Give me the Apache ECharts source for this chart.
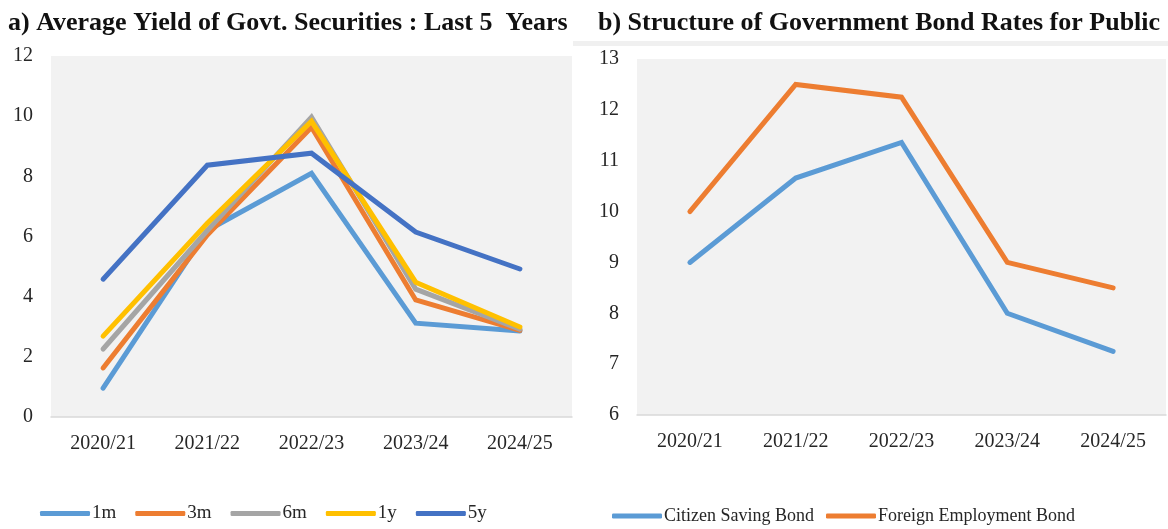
<!DOCTYPE html>
<html>
<head>
<meta charset="utf-8">
<script src="https://cdn.jsdelivr.net/npm/echarts@6/dist/echarts.min.js"></script>
<style>
  html, body { margin: 0; padding: 0; background: #fff; }
  #chart { width: 1168px; height: 529px; }
</style>
</head>
<body>
<div id="chart"></div>
<script>
// Fiscal years shared by both panels
const years = ['2020/21', '2021/22', '2022/23', '2023/24', '2024/25'];

// Panel a) average yield of government securities (%)
const yield1m = [0.96, 6.2, 8.1, 3.12, 2.86];
const yield3m = [1.63, 6.05, 9.63, 3.89, 2.88];
const yield6m = [2.26, 6.2, 9.97, 4.25, 2.92];
const yield1y = [2.69, 6.44, 9.83, 4.48, 2.99];
const yield5y = [4.58, 8.37, 8.77, 6.15, 4.92];

// Panel b) government bond rates for the public (%)
const citizenSaving = [9.0, 10.66, 11.36, 8.0, 7.25];
const foreignEmployment = [10.0, 12.5, 12.25, 9.0, 8.5];

const serif = '"Liberation Serif", "DejaVu Serif", serif';
const textColor = '#262626';

const yieldSeries = [
  { name: '1m', data: yield1m, color: '#5B9BD5' },
  { name: '3m', data: yield3m, color: '#ED7D31' },
  { name: '6m', data: yield6m, color: '#A5A5A5' },
  { name: '1y', data: yield1y, color: '#FFC000' },
  { name: '5y', data: yield5y, color: '#4472C4' }
];
const bondSeries = [
  { name: 'Citizen Saving Bond', data: citizenSaving, color: '#5B9BD5' },
  { name: 'Foreign Employment Bond', data: foreignEmployment, color: '#ED7D31' }
];

function lineSeries(s, axisIndex) {
  return {
    name: s.name,
    type: 'line',
    xAxisIndex: axisIndex,
    yAxisIndex: axisIndex,
    data: s.data,
    symbol: 'none',
    showSymbol: false,
    color: s.color,
    lineStyle: { width: 5, color: s.color, cap: 'round', join: 'miter' },
    emphasis: { disabled: true }
  };
}

function catAxis(gridIndex) {
  return {
    type: 'category',
    gridIndex: gridIndex,
    data: years,
    boundaryGap: true,
    axisLine: { show: true, lineStyle: { color: '#d9d9d9', width: 1.5 } },
    axisTick: { show: false },
    axisLabel: { fontFamily: serif, fontSize: 20, color: textColor, margin: 17 },
    splitLine: { show: false }
  };
}

function valAxis(gridIndex, min, max, interval) {
  return {
    type: 'value',
    gridIndex: gridIndex,
    min: min, max: max, interval: interval,
    axisLine: { show: false },
    axisTick: { show: false },
    splitLine: { show: false },
    axisLabel: { fontFamily: serif, fontSize: 20, color: textColor, margin: 18 }
  };
}

const chart = echarts.init(document.getElementById('chart'), null, { renderer: 'canvas' });

chart.setOption({
  animation: false,
  backgroundColor: '#ffffff',
  title: [
    {
      text: 'a) Average Yield of Govt. Securities : Last 5  Years',
      left: 3, top: 5,
      textStyle: { fontFamily: serif, fontWeight: 'bold', fontSize: 26, color: '#111' }
    },
    {
      text: 'b) Structure of Government Bond Rates for Public',
      left: 593, top: 5,
      textStyle: { fontFamily: serif, fontWeight: 'bold', fontSize: 26, color: '#111' }
    }
  ],
  graphic: [
    { type: 'rect', shape: { x: 573, y: 41, width: 595, height: 5 }, style: { fill: '#f0f0f0' }, silent: true }
  ],
  grid: [
    { left: 51, top: 56, width: 521, height: 361, show: true, backgroundColor: '#f2f2f2', borderWidth: 0 },
    { left: 637, top: 59, width: 529, height: 356, show: true, backgroundColor: '#f2f2f2', borderWidth: 0 }
  ],
  xAxis: [catAxis(0), catAxis(1)],
  yAxis: [valAxis(0, 0, 12, 2), valAxis(1, 6, 13, 1)],
  legend: [
    {
      data: yieldSeries.map(s => s.name),
      left: 40, top: 504, padding: 0,
      icon: 'roundRect',
      itemWidth: 50, itemHeight: 5, itemGap: 19,
      textStyle: { fontFamily: serif, fontSize: 19, color: textColor, padding: [0, 0, 0, -3] },
      selectedMode: false
    },
    {
      data: bondSeries.map(s => s.name),
      left: 612, top: 507, padding: 0,
      icon: 'roundRect',
      itemWidth: 50, itemHeight: 5, itemGap: 12,
      textStyle: { fontFamily: serif, fontSize: 18, color: textColor, padding: [0, 0, 0, -3] },
      selectedMode: false
    }
  ],
  series: yieldSeries.map(s => lineSeries(s, 0)).concat(bondSeries.map(s => lineSeries(s, 1)))
});
</script>
</body>
</html>
